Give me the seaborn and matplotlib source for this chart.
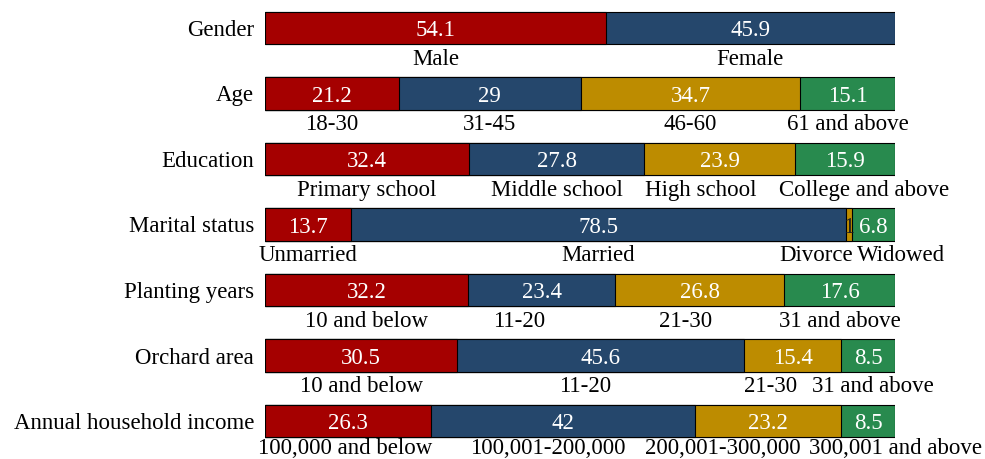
import numpy as np
import pandas as pd
import matplotlib
matplotlib.use("Agg")
import matplotlib.pyplot as plt
import seaborn as sns

# Data (percentages)
categories = ["Gender", "Age", "Education", "Marital status",
              "Planting years", "Orchard area", "Annual household income"]

gender = [54.1, 45.9]
age = [21.2, 29, 34.7, 15.1]
education = [32.4, 27.8, 23.9, 15.9]
marital = [13.7, 78.5, 1, 6.8]
planting = [32.2, 23.4, 26.8, 17.6]
orchard = [30.5, 45.6, 15.4, 8.5]
income = [26.3, 42, 23.2, 8.5]

gender_labels = ["Male", "Female"]
age_labels = ["18-30", "31-45", "46-60", "61 and above"]
education_labels = ["Primary school", "Middle school", "High school", "College and above"]
marital_labels = ["Unmarried", "Married", "Divorce", "Widowed"]
planting_labels = ["10 and below", "11-20", "21-30", "31 and above"]
orchard_labels = ["10 and below", "11-20", "21-30", "31 and above"]
income_labels = ["100,000 and below", "100,001-200,000", "200,001-300,000", "300,001 and above"]

values = [gender, age, education, marital, planting, orchard, income]
labels = [gender_labels, age_labels, education_labels, marital_labels,
          planting_labels, orchard_labels, income_labels]

# small horizontal nudges so the group labels don't collide
label_shift = [
    [0, 0],
    [0, 0, 0, 0],
    [0, 0, -3, 3],
    [0, 0, -5.2, 4.3],
    [0, -3.6, -2.2, 0],
    [0, -2.5, -3.5, 0.8],
    [-0.5, -2.4, -7.2, 4.3],
]

colors = ["#a50000", "#25476c", "#bd8c00", "#288a4e"]
FS = 16.5

# long table with cumulative ends for stacking
rows = []
for cat, vals in zip(categories, values):
    cum = np.cumsum(vals)
    for j, (v, c) in enumerate(zip(vals, cum)):
        rows.append({"category": cat, "seg": j, "value": v, "end": c})
df = pd.DataFrame(rows)

sns.set_style("white")
plt.rcParams["font.family"] = ["Liberation Serif", "DejaVu Serif"]

fig = plt.figure(figsize=(9.85, 4.59), dpi=100)
ax = fig.add_axes([265 / 985, 0, 630 / 985, 1])

# draw from the last segment backwards so earlier ones sit on top
for j in range(3, -1, -1):
    sub = df[df.seg == j]
    sns.barplot(data=sub, x="end", y="category", order=categories,
                orient="h", color=colors[j], width=0.5, ax=ax,
                edgecolor="black", linewidth=0.8, saturation=1)

ax.set_xlim(0, 100)
ax.set_ylim(6.58, -0.427)
for s in ax.spines.values():
    s.set_visible(False)
ax.set_xticks([])
ax.set_xlabel("")
ax.set_ylabel("")
ax.tick_params(axis="y", length=0, pad=8, labelsize=FS, labelcolor="black")

n = len(categories)
for i, (vals, labs, shifts) in enumerate(zip(values, labels, label_shift)):
    start = 0
    below = 0.48 if i < n - 1 else 0.42  # keep the last row inside the figure
    for j, v in enumerate(vals):
        mid = start + v / 2
        txt_color = "white" if v > 2 else "#222222"
        ax.text(mid, i + 0.04, f"{v:g}", ha="center", va="center",
                color=txt_color, fontsize=FS)
        ax.text(mid + shifts[j], i + below, labs[j], ha="center", va="center",
                color="black", fontsize=FS, clip_on=False)
        start += v

plt.savefig("out.png", dpi=100)
